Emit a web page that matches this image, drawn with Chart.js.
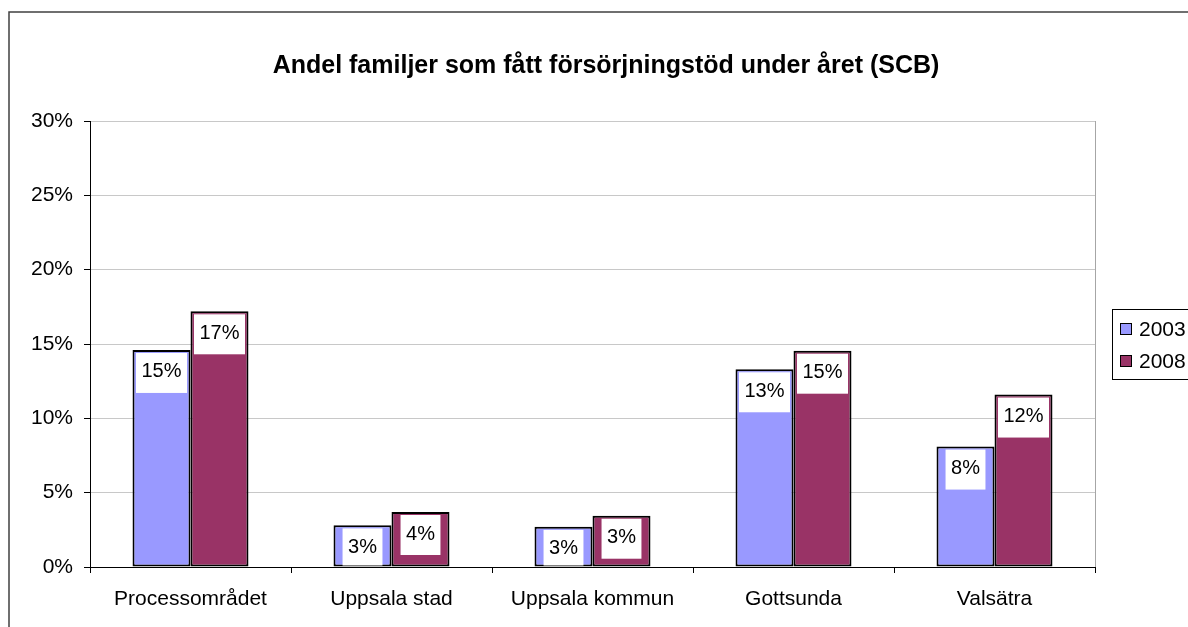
<!DOCTYPE html>
<html>
<head>
<meta charset="utf-8">
<script src="https://cdn.jsdelivr.net/npm/chart.js@4/dist/chart.umd.min.js"></script>
<style>
  html, body { margin: 0; padding: 0; background: #fff; }
  #wrap { width: 1188px; height: 627px; position: relative; }
</style>
</head>
<body>
<div id="wrap"><canvas id="chart"></canvas></div>
<script>
// data (percent)
const categories = ["Processområdet", "Uppsala stad", "Uppsala kommun", "Gottsunda", "Valsätra"];
const seriesNames = ["2003", "2008"];
const values2003 = [14.6, 2.8, 2.7, 13.3, 8.1];
const values2008 = [17.2, 3.7, 3.45, 14.55, 11.6];
const seriesColors = ["#9999FF", "#993366"];
const titleText = "Andel familjer som fått försörjningstöd under året (SCB)";

const FONT = "'Liberation Sans', Arial, sans-serif";

// frame, title, value boxes and legend in the old spreadsheet look
const excelLook = {
  id: "excelLook",
  beforeDatasetsDraw(chart) {
    const { ctx, chartArea: a } = chart;
    ctx.save();
    ctx.strokeStyle = "#a6a6a6";
    ctx.lineWidth = 1;
    ctx.beginPath();
    ctx.moveTo(a.right + 0.5, a.top);
    ctx.lineTo(a.right + 0.5, a.bottom);
    ctx.stroke();
    ctx.restore();
  },
  afterDatasetsDraw(chart) {
    const ctx = chart.ctx;
    ctx.save();
    ctx.font = "20px " + FONT;
    ctx.textAlign = "center";
    ctx.textBaseline = "middle";
    chart.data.datasets.forEach((ds, i) => {
      chart.getDatasetMeta(i).data.forEach((bar, j) => {
        const txt = Math.round(ds.data[j]) + "%";
        const w = ctx.measureText(txt).width + 11;
        const top = bar.y + 3;
        const bottom = Math.min(top + 40, bar.base - 1);
        ctx.fillStyle = "#fff";
        ctx.fillRect(bar.x - w / 2, top, w, bottom - top);
        ctx.fillStyle = "#000";
        ctx.fillText(txt, bar.x, top + 19);
      });
    });
    ctx.restore();
  },
  afterDraw(chart) {
    const ctx = chart.ctx;
    ctx.save();
    // outer chart frame (runs off the right and bottom edge)
    ctx.strokeStyle = "#404040";
    ctx.lineWidth = 1.5;
    ctx.beginPath();
    ctx.moveTo(9, 640);
    ctx.lineTo(9, 12);
    ctx.lineTo(1200, 12);
    ctx.stroke();

    // title
    ctx.fillStyle = "#000";
    ctx.font = "bold 25px " + FONT;
    ctx.textAlign = "center";
    ctx.textBaseline = "middle";
    ctx.fillText(titleText, 606, 66);

    // legend
    ctx.strokeStyle = "#000";
    ctx.lineWidth = 1;
    ctx.strokeRect(1112.5, 309.5, 100, 70);
    ctx.font = "21px " + FONT;
    ctx.textAlign = "left";
    chart.data.datasets.forEach((ds, i) => {
      const cy = 329 + i * 32;
      ctx.fillStyle = ds.backgroundColor;
      ctx.fillRect(1120, cy - 6, 12, 12);
      ctx.strokeRect(1120.5, cy - 5.5, 11, 11);
      ctx.fillStyle = "#000";
      ctx.fillText(ds.label, 1139, cy + 1);
    });
    ctx.restore();
  }
};

new Chart(document.getElementById("chart"), {
  type: "bar",
  data: {
    labels: categories,
    datasets: [
      {
        label: seriesNames[0],
        data: values2003,
        backgroundColor: seriesColors[0],
        borderColor: "#000",
        borderWidth: 2,
        borderSkipped: false,
        categoryPercentage: 0.577,
        barPercentage: 1
      },
      {
        label: seriesNames[1],
        data: values2008,
        backgroundColor: seriesColors[1],
        borderColor: "#000",
        borderWidth: 2,
        borderSkipped: false,
        categoryPercentage: 0.577,
        barPercentage: 1
      }
    ]
  },
  options: {
    responsive: true,
    maintainAspectRatio: false,
    animation: false,
    layout: { padding: { left: 0, right: 93, top: 121, bottom: 0 } },
    plugins: {
      legend: { display: false },
      title: { display: false },
      tooltip: { enabled: false }
    },
    scales: {
      x: {
        offset: true,
        grid: {
          offset: true,
          drawOnChartArea: false,
          drawTicks: true,
          tickLength: 6,
          tickColor: "#000"
        },
        border: { color: "#000", width: 1 },
        ticks: {
          color: "#000",
          padding: 14,
          font: { family: FONT, size: 21 }
        },
        afterFit(scale) { scale.height = 60; }
      },
      y: {
        min: 0,
        max: 30,
        grid: {
          color: "#c8c8c8",
          tickColor: "#000",
          tickLength: 6
        },
        border: { color: "#000", width: 1 },
        ticks: {
          stepSize: 5,
          color: "#000",
          padding: 11,
          font: { family: FONT, size: 21 },
          callback: (v) => v + "%"
        },
        afterFit(scale) { scale.width = 90; }
      }
    }
  },
  plugins: [excelLook]
});
</script>
</body>
</html>
